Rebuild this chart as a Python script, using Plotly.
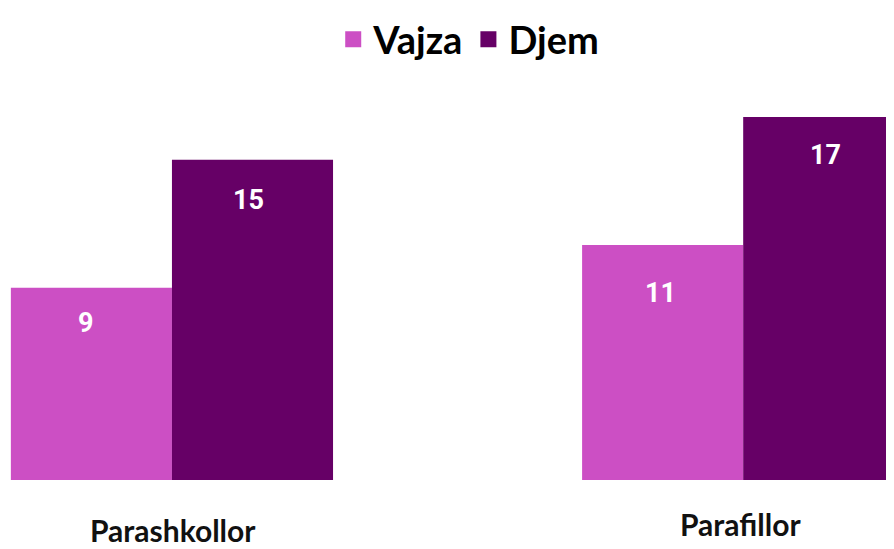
import plotly.graph_objects as go

categories = ["Parashkollor", "Parafillor"]
series_names = ["Vajza", "Djem"]
vajza = [9, 11]
djem = [15, 17]

colors = {"Vajza": "#CC4FC4", "Djem": "#660066"}
bargap = 0.436
x_idx = [0, 1]

fig = go.Figure()
for name, vals in zip(series_names, [vajza, djem]):
    fig.add_trace(go.Bar(
        name=name, x=x_idx, y=vals,
        marker=dict(color=colors[name], line=dict(width=0)),
        hoverinfo="skip", showlegend=False,
    ))
# legend entries with larger square symbols
for name in series_names:
    fig.add_trace(go.Scatter(
        name=name, x=[None], y=[None], mode="markers",
        marker=dict(symbol="square", size=24, color=colors[name]),
        showlegend=True, hoverinfo="skip",
    ))

# value labels inside bars, below the top edge
half = (1 - bargap) / 4
label_yshift = [[-35, -48], [-40, -38]]
label_xshift = [[-5, -2], [-4, 2]]
for s, vals in enumerate([vajza, djem]):
    off = -half if s == 0 else half
    for i, v in enumerate(vals):
        fig.add_annotation(
            x=x_idx[i] + off, y=v, xref="x", yref="y",
            text=str(v), showarrow=False,
            yshift=label_yshift[s][i], xshift=label_xshift[s][i],
            font=dict(family="Liberation Sans Narrow, Arial Narrow, Roboto", size=27, color="white", weight="bold"),
        )

# category labels
cat_shift = [-50, -44]
for i, c in enumerate(categories):
    fig.add_annotation(
        x=x_idx[i], y=0, xref="x", yref="y", text=c, showarrow=False,
        yshift=cat_shift[i], xshift=(1 if i == 0 else -3),
        font=dict(family="Lato, Open Sans, sans-serif", size=30, color="#111111", weight="bold"),
    )

fig.update_layout(
    width=886, height=541,
    margin=dict(l=0, r=0, t=105, b=69),
    paper_bgcolor="white", plot_bgcolor="white",
    barmode="group", bargap=bargap, bargroupgap=0,
    showlegend=True,
    legend=dict(
        orientation="h", x=0.52, xanchor="center", y=1.215, yanchor="middle",
        font=dict(family="Lato, Open Sans, sans-serif", size=38, color="#000000", weight="bold"),
        itemsizing="trace", itemwidth=30, tracegroupgap=0,
        bgcolor="rgba(0,0,0,0)",
    ),
    xaxis=dict(range=[-0.287, 1.264], showticklabels=False, showgrid=False,
               zeroline=False, showline=False, ticks=""),
    yaxis=dict(range=[0, 17], showticklabels=False, showgrid=False,
               zeroline=False, showline=False, ticks=""),
)

fig.write_html("out.html")
